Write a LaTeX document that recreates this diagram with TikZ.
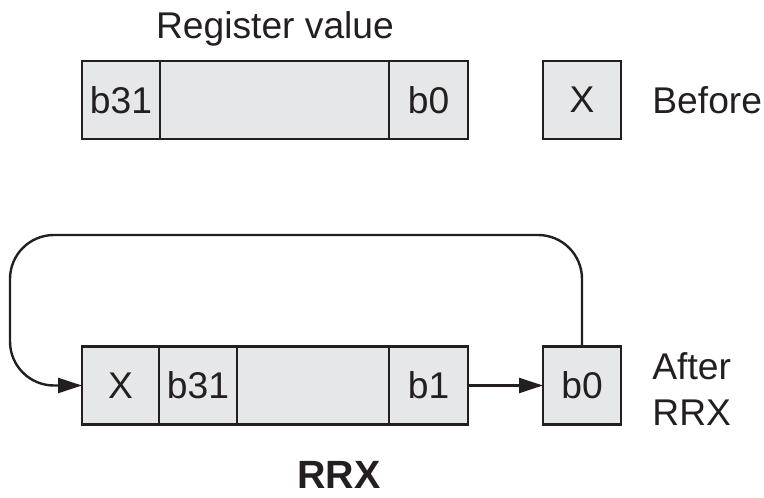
\documentclass[tikz,border=0pt]{standalone}
\usepackage{fontspec}
\setmainfont{Liberation Sans}
\usetikzlibrary{arrows.meta}
\definecolor{ink}{HTML}{231F20}
\definecolor{cellfill}{HTML}{E6E7E8}

\begin{document}
\begin{tikzpicture}[
  x=0.5pt, y=0.5pt, font=\fontsize{18.6}{23}\selectfont,
  cell/.style={draw=ink, fill=cellfill, line width=1.35pt, minimum height=39pt, inner sep=0pt, outer sep=0pt, text=ink, anchor=west},
  caption/.style={anchor=west, text=ink, align=left, inner sep=0pt},
  flow/.style={draw=ink, line width=1.2pt, -{Triangle[length=12pt,width=7.5pt]}}
]
\useasboundingbox (0,0) rectangle (764,497);

% before the shift
\node[text=ink, anchor=base, inner sep=0pt] (regval) at (275,458) {Register value};
\node[cell, minimum width=39pt] (tb31) at (82,397) {b31};
\node[cell, minimum width=114.5pt] (tmid) at (tb31.east) {};
\node[cell, minimum width=39.5pt] (tb0) at (tmid.east) {b0};
\node[cell, minimum width=39pt] (tx) at (543,397) {X};
\node[caption] (before) at (652,397) {Before};

% after the shift
\node[cell, minimum width=38.5pt] (bx) at (82,111.5) {X};
\node[cell, minimum width=39pt] (bb31) at (bx.east) {b31};
\node[cell, minimum width=76pt] (bmid) at (bb31.east) {};
\node[cell, minimum width=39.5pt] (bb1) at (bmid.east) {b1};
\node[cell, minimum width=39pt] (bb0) at (543,111.5) {b0};
\node[caption] (after) at (652,108) {After\\RRX};

\coordinate (looptop) at (10,262);
\draw[flow, rounded corners=22pt] (bb0.north) |- (looptop) |- (bx.west);
\draw[flow] (bb1.east) -- (bb0.west);

\node[text=ink, anchor=base, inner sep=0pt, font=\fontsize{19.7}{23}\bfseries] (title) at (339,9) {RRX};
\end{tikzpicture}
\end{document}
